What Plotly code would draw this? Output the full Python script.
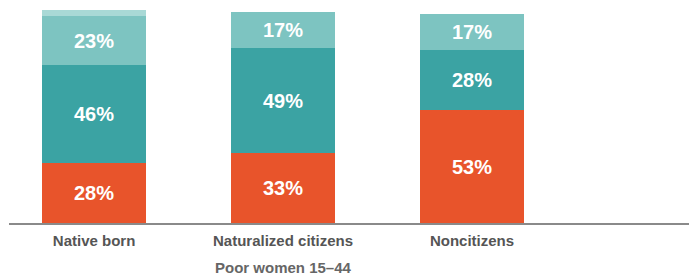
import plotly.graph_objects as go

categories = ["Native born", "Naturalized citizens", "Noncitizens"]
below_poverty = [28, 33, 53]
middle = [46, 49, 28]
upper = [23, 17, 17]
other = [3, 0, 0]
axis_title = "Poor women 15–44"

colors = ["#E8542B", "#3BA3A3", "#7DC4C1", "#A9D9D6"]
xpos = list(range(len(categories)))

fig = go.Figure()
for vals, col, show in [(below_poverty, colors[0], True), (middle, colors[1], True),
                        (upper, colors[2], True), (other, colors[3], False)]:
    fig.add_trace(go.Bar(
        x=xpos, y=vals, marker=dict(color=col, line=dict(width=0)),
        width=0.55,
        text=[f"{v}%" for v in vals] if show else None,
        textposition="inside" if show else "none",
        insidetextanchor="middle",
        textangle=0,
        textfont=dict(family="Liberation Sans", size=20, color="white", weight="bold"),
        hoverinfo="skip",
    ))

fig.update_layout(
    barmode="stack",
    width=689, height=276,
    margin=dict(l=9, r=0, t=10, b=53),
    plot_bgcolor="white", paper_bgcolor="white",
    showlegend=False,
    uniformtext=dict(mode=False),
    xaxis=dict(
        range=[-0.45, 3.148], tickvals=xpos, ticktext=categories,
        showgrid=False, zeroline=False, showline=True, linecolor="#8A8A8A", linewidth=1.5,
        ticks="outside", ticklen=3, tickcolor="rgba(0,0,0,0)",
        tickfont=dict(family="Liberation Sans", size=15, color="#555555", weight="bold"),
    ),
    yaxis=dict(range=[0, 100], visible=False),
    annotations=[dict(
        x=1, y=0, xref="x", yref="paper", text=axis_title, showarrow=False,
        yanchor="middle", yshift=-44,
        font=dict(family="Liberation Sans", size=15, color="#666666", weight="bold"),
    )],
)

fig.write_html("out.html", config={"displayModeBar": False, "staticPlot": True},
               post_script="document.body.style.margin='0';document.body.style.overflow='hidden';")
